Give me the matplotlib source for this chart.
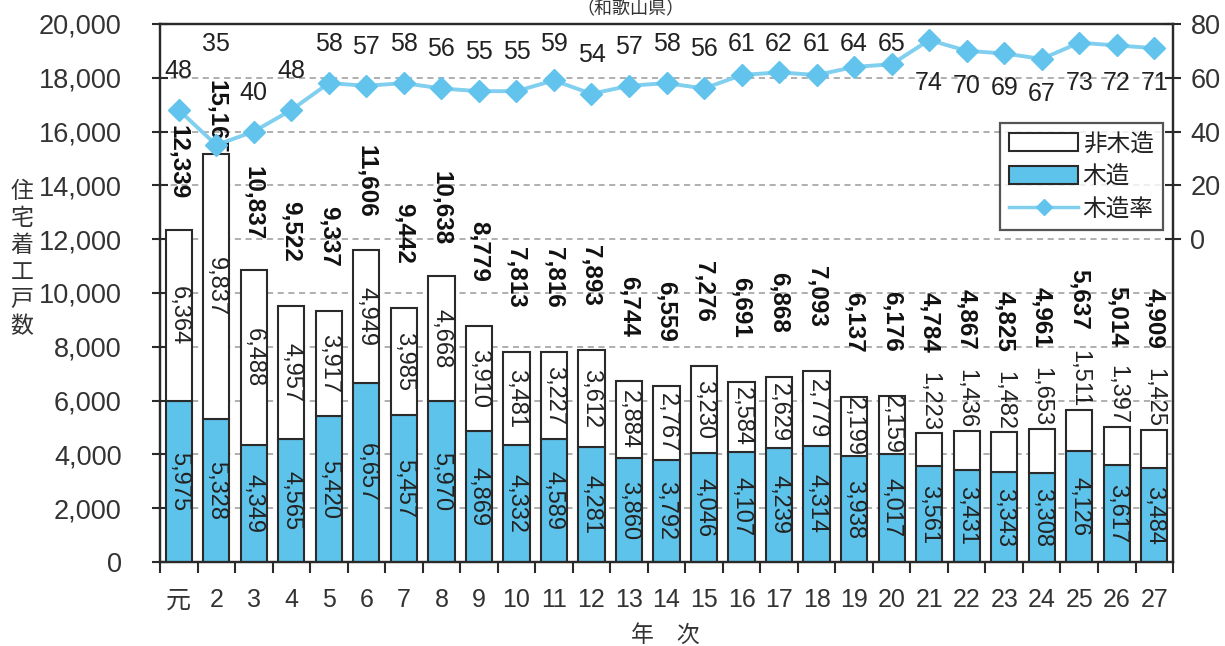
import matplotlib
matplotlib.use('Agg')
import matplotlib.pyplot as plt
from matplotlib.patches import Patch
from matplotlib.lines import Line2D
import numpy as np

plt.rcParams['font.family'] = ['Liberation Sans', 'Noto Sans CJK JP', 'DejaVu Sans']

# data
years = ['元', '2', '3', '4', '5', '6', '7', '8', '9', '10', '11', '12', '13', '14',
         '15', '16', '17', '18', '19', '20', '21', '22', '23', '24', '25', '26', '27']
wood = [5975, 5328, 4349, 4565, 5420, 6657, 5457, 5970, 4869, 4332, 4589, 4281, 3860, 3792,
        4046, 4107, 4239, 4314, 3938, 4017, 3561, 3431, 3343, 3308, 4126, 3617, 3484]
nonwood = [6364, 9837, 6488, 4957, 3917, 4949, 3985, 4668, 3910, 3481, 3227, 3612, 2884, 2767,
           3230, 2584, 2629, 2779, 2199, 2159, 1223, 1436, 1482, 1653, 1511, 1397, 1425]
rate = [48, 35, 40, 48, 58, 57, 58, 56, 55, 55, 59, 54, 57, 58,
        56, 61, 62, 61, 64, 65, 74, 70, 69, 67, 73, 72, 71]

blue = '#5EC3EA'
line_c = '#80CFEF'
mark_c = '#62C4EC'
edge = '#2a2a2a'
txt = '#222222'

wood = np.array(wood)
nonwood = np.array(nonwood)
total = wood + nonwood
x = np.arange(len(years))

fig = plt.figure(figsize=(12.25, 6.46), dpi=100)
ax = fig.add_axes([0.1306, 0.130, 0.827, 0.833])

ax.bar(x, wood, 0.7, color=blue, edgecolor=edge, linewidth=1.5, zorder=3)
ax.bar(x, nonwood, 0.7, bottom=wood, color='white', edgecolor=edge, linewidth=1.5, zorder=3)

ax.set_xlim(-0.5, len(years) - 0.5)
ax.set_ylim(0, 20000)
ax.set_yticks(np.arange(0, 20001, 2000))
ax.set_yticklabels([f'{v:,}' for v in range(0, 20001, 2000)], fontsize=19.5, color='#333333')
for yv in range(2000, 20000, 2000):
    ax.axhline(yv, color='#9a9a9a', lw=1.1, ls=(0, (4, 3)), zorder=1)

ax.set_xticks(x)
ax.set_xticklabels(years, fontsize=18, color='#333333')
ax.set_xticks(np.arange(-0.5, len(years)), minor=True)
ax.tick_params(axis='x', which='major', length=0, pad=19)
ax.tick_params(axis='x', which='minor', length=8, width=1.5, direction='out', color=edge)
ax.tick_params(axis='y', length=11, width=1.5, direction='inout', pad=22, color=edge)
for s in ax.spines.values():
    s.set_linewidth(1.6)
    s.set_color(edge)

# labels in and above bars
for i in x:
    ax.text(i, wood[i] / 2, f'{wood[i]:,}', rotation=-90, ha='center', va='center',
            fontsize=17, color=txt, zorder=5)
    if i < 20:
        ax.text(i, wood[i] + nonwood[i] / 2, f'{nonwood[i]:,}', rotation=-90, ha='center',
                va='center', fontsize=17, color=txt, zorder=5)
        ax.text(i, min(total[i] + 3900, 17900), f'{total[i]:,}', rotation=-90, ha='center',
                va='top', fontsize=17.5, fontweight='bold', color='#111111', zorder=5)
    else:
        ax.text(i, total[i] + 100, f'{nonwood[i]:,}', rotation=-90, ha='center',
                va='bottom', fontsize=17,
                family=['Liberation Sans Narrow', 'Liberation Sans'], color=txt, zorder=5)
        ax.text(i, total[i] + 3000, f'{total[i]:,}', rotation=-90, ha='center',
                va='bottom', fontsize=17.5, fontweight='bold', color='#111111', zorder=5)

# rate line
ax2 = ax.twinx()
ax2.set_ylim(-120, 80)
ax2.set_yticks([0, 20, 40, 60, 80])
ax2.set_yticklabels(['0', '20', '40', '60', '80'], fontsize=19.5, color='#333333')
ax2.tick_params(axis='y', length=11, width=1.5, direction='inout', pad=7, color=edge)
for s in ax2.spines.values():
    s.set_linewidth(1.6)
    s.set_color(edge)
ax2.plot(x, rate, color=line_c, lw=2.8, marker='D', ms=11, mfc=mark_c, mec=mark_c, zorder=4)
for i in x:
    if i < 20:
        ly = 72.5 if i == 1 else min(rate[i] + 14.5, 72.5)
    else:
        ly = min(rate[i] - 13, 58)
    ax2.text(i, ly, str(rate[i]), ha='center', va='center', fontsize=18, color=txt)

handles = [Patch(facecolor='white', edgecolor=edge, linewidth=1.5),
           Patch(facecolor=blue, edgecolor=edge, linewidth=1.5),
           Line2D([], [], color=line_c, lw=2.5, marker='D', ms=8, mfc=mark_c, mec=mark_c)]
leg = ax2.legend(handles, ['非木造', '木造', '木造率'], loc='upper right',
                 bbox_to_anchor=(0.99, 0.816), frameon=True, fancybox=False,
                 borderaxespad=0, handlelength=2.9, handleheight=0.8, handletextpad=0.2,
                 borderpad=0.4, labelspacing=0.4,
                 prop={'family': ['Noto Sans CJK JP'], 'size': 17})
leg.get_frame().set_edgecolor(edge)
leg.get_frame().set_linewidth(1.6)
for t in leg.get_texts():
    t.set_color(txt)

fig.text(0.018, 0.599, '\n'.join('住宅着工戸数'), ha='center', va='center', fontsize=16.5,
         linespacing=1.22, family=['Noto Sans CJK JP'], color='#333333')
fig.text(0.543, 0.017, '年　次', ha='center', va='center', fontsize=16.5,
         family=['Noto Sans CJK JP'], color='#333333')
fig.text(0.515, 0.999, '（和歌山県）', ha='center', va='top', fontsize=13,
         family=['Noto Sans CJK JP'], color='#333333')

fig.savefig('out.png', dpi=100, facecolor='white')
